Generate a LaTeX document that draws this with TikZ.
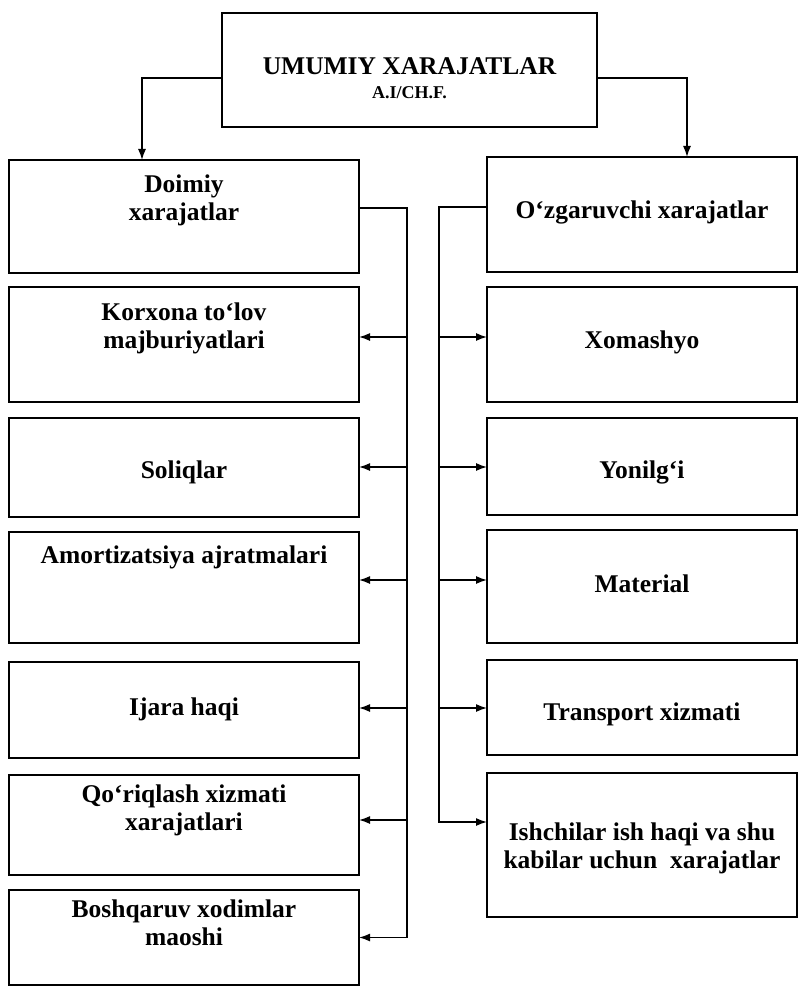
\documentclass[tikz,border=0pt]{standalone}
\usepackage{fontspec}
\setmainfont{Liberation Serif}
\usetikzlibrary{arrows.meta}
\newcommand{\bxt}[4]{\parbox[c][#2][t]{#1}{\centering\vspace*{#3}\rule{0pt}{18pt}#4\par}}
\tikzset{
  boxst/.style={draw, line width=2.6pt, inner sep=0pt, outer sep=0pt},
  conn/.style={line width=1.4pt},
  arr/.style={line width=1.4pt, -{Latex[length=11pt,width=8pt]}}
}
\begin{document}
\begin{tikzpicture}[x=1pt,y=-1pt, font=\fontsize{25.5}{28}\selectfont\bfseries]
\useasboundingbox (0,0) rectangle (800,987);
% top
\node[boxst] (top) at (409.5,70) {\bxt{375pt}{114pt}{44pt}{UMUMIY XARAJATLAR\\ \fontsize{18}{24}\selectfont A.I/CH.F.}};
% left column
\node[boxst] (d0) at (184,216.5) {\bxt{350pt}{113pt}{14pt}{Doimiy\\ xarajatlar}};
\node[boxst] (d1) at (184,344.5) {\bxt{350pt}{115pt}{15pt}{Korxona to‘lov\\ majburiyatlari}};
\node[boxst] (d2) at (184,467.5) {\bxt{350pt}{99pt}{42pt}{Soliqlar}};
\node[boxst] (d3) at (184,587.5) {\bxt{350pt}{111pt}{13pt}{Amortizatsiya ajratmalari}};
\node[boxst] (d4) at (184,710) {\bxt{350pt}{96pt}{35pt}{Ijara haqi}};
\node[boxst] (d5) at (184,825) {\bxt{350pt}{100pt}{9pt}{Qo‘riqlash xizmati\\ xarajatlari}};
\node[boxst] (d6) at (184,937.5) {\bxt{350pt}{95pt}{9pt}{Boshqaruv xodimlar\\ maoshi}};
% right column
\node[boxst] (r0) at (642,214.5) {\bxt{310pt}{115pt}{43pt}{O‘zgaruvchi xarajatlar}};
\node[boxst] (r1) at (642,344.5) {\bxt{310pt}{115pt}{43pt}{Xomashyo}};
\node[boxst] (r2) at (642,466.5) {\bxt{310pt}{97pt}{42pt}{Yonilg‘i}};
\node[boxst] (r3) at (642,586.5) {\bxt{310pt}{113pt}{44pt}{Material}};
\node[boxst] (r4) at (642,707.5) {\bxt{310pt}{95pt}{42pt}{Transport xizmati}};
\node[boxst] (r5) at (642,845) {\bxt{310pt}{144pt}{49pt}{Ishchilar ish haqi va shu\\ kabilar uchun\ \ xarajatlar}};
% top arrows
\draw[arr] ([yshift=-8pt]top.west) -| ([xshift=-42pt]d0.north);
\draw[arr] ([yshift=-8pt]top.east) -| ([xshift=45pt]r0.north);
% left bus
\coordinate (lb) at (407,0);
\draw[arr] ([yshift=8.5pt]d0.east) -| (lb |- d6.east) -- (d6.east);
\foreach \n/\s in {d1/7.5, d2/0.5, d3/7.5, d4/2, d5/5}{
  \path ([yshift=\s pt]\n.east) coordinate (k\n);
  \draw[arr] (lb |- k\n) -- (k\n);
}
% right bus
\coordinate (rb) at (439,0);
\path ([yshift=23pt]r5.west) coordinate (kr5);
\draw[arr] ([yshift=7.5pt]r0.west) -| (rb |- kr5) -- (kr5);
\foreach \n/\s in {r1/7.5, r2/-0.5, r3/6.5, r4/-0.5}{
  \path ([yshift=\s pt]\n.west) coordinate (k\n);
  \draw[arr] (rb |- k\n) -- (k\n);
}
\end{tikzpicture}
\end{document}
